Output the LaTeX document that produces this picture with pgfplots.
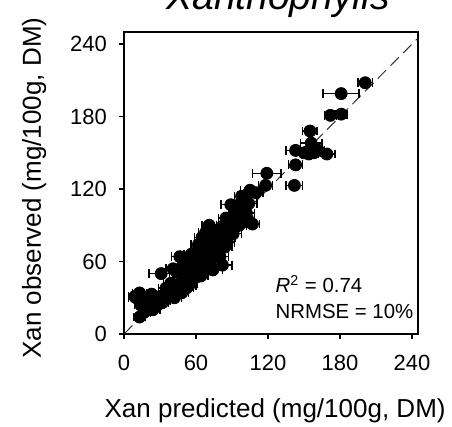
\documentclass[border=0pt]{standalone}
\usepackage{fontspec}
\setmainfont{Liberation Sans}
\usepackage{pgfplots}
\pgfplotsset{compat=1.18}
\usepackage{pgfplotstable}

\pgfplotstableread{
x y e
201 208 6
181 199 15
172 181 5
181 182 5
155 168 6
156 158 9
143 152 8
150 150 6
154 149 6
158 150 6
162 152 5
169 149 7
143 140 6
119 133 12
142 123 7
118 123 6
105 119 8
110 117 6
102 115 7
98 114 6
89 107 8
97 108 7
104 108 7
93 101 6
102 100 7
95 94 6
100 97 6
107 91 6
92 97 5
98 104 6
90 92 5
103 95 6
96 90 6
85 96 6
71 90 6
82 89 7
91 83 7
78 86 6
74 82 6
68 84 6
86 80 7
80 77 6
72 78 5
65 80 6
62 74 6
76 72 6
84 72 6
70 70 6
66 68 5
60 67 6
74 66 6
80 64 7
56 62 6
64 62 6
70 60 6
58 58 5
62 56 6
52 55 5
66 54 6
74 53 8
82 57 8
57 48 6
60 52 5
68 64 6
72 74 6
78 70 6
62 70 6
68 76 6
88 86 6
84 84 6
76 80 6
66 72 6
56 66 6
54 60 6
50 56 5
48 52 5
64 66 6
70 68 6
76 76 5
80 82 6
86 76 6
73 62 6
67 58 5
60 62 5
90 88 6
58 52 5
52 50 5
64 48 6
46.5 64 7
41 54 6
31 50 10
44 51 6
13 34 6
13 14 5
24 20 6
19 25 5
30 31 6
38 36 6
46 39 6
55 42 6
60 47 6
10 30 6
16 28 6
22 27 5
28 24 6
34 28 5
40 32 6
48 34 6
52 38 6
44 40 5
36 33 5
26 30 6
20 22 5
17 18 5
32 26 5
42 30 6
50 44 6
56 46 6
14 24 5
9 31 5
23 33 6
35 38 6
46 36 6
54 40 6
39 42 6
29 27 5
58 50 6
}\datatable

\begin{document}
\begin{tikzpicture}
\begin{axis}[
  at={(0,0)}, anchor=south west,
  scale only axis, width=147pt, height=151pt,
  xmin=0, xmax=245, ymin=0, ymax=250,
  xtick={0,60,120,180,240}, ytick={0,60,120,180,240},
  tick align=outside, major tick length=2.5pt,
  xtick pos=bottom, ytick pos=left,
  /pgf/number format/assume math mode=true,
  tick label style={font=\fontsize{11}{13}\selectfont},
  xticklabel style={yshift=-4.5pt},
  yticklabel style={xshift=-2.5pt},
  tick style={black, line width=0.6pt},
  axis line style={black, line width=0.6pt},
  xlabel={Xan predicted (mg/100g, DM)},
  ylabel={Xan observed (mg/100g, DM)},
  label style={font=\fontsize{13}{15}\selectfont},
  xlabel style={at={(axis description cs:0.514,-0.275)}, anchor=base},
  ylabel style={at={(axis description cs:-0.306,0.483)}, anchor=center},
]
\addplot[black!80, line width=0.5pt, dash pattern=on 6pt off 3pt] coordinates {(0,0) (250,250)};
\addplot[only marks, mark=none, black, line width=0.7pt,
  error bars/.cd, x dir=both, x explicit,
  error bar style={line width=0.7pt},
  error mark options={rotate=90, mark size=2.2pt, line width=0.7pt}]
  table[x=x, y=y, x error=e] {\datatable};
\addplot[only marks, mark=*, mark size=3pt, black] table[x=x, y=y] {\datatable};
\node[anchor=base west, inner sep=0pt, font=\fontsize{10.2}{12}\selectfont] at (axis cs:126,34) {\textit{R}$^{\mathrm{2}}$ = 0.74};
\node[anchor=base west, inner sep=0pt, font=\fontsize{10.2}{12}\selectfont] at (axis cs:126,13) {NRMSE = 10\%};
\end{axis}
\node[anchor=base, font=\fontsize{19.5}{23}\selectfont\itshape] at (77pt,162pt) {Xanthophylls};
\pgfresetboundingbox
\useasboundingbox (-62pt,-46.5pt) rectangle (164pt,167pt);
\end{tikzpicture}
\end{document}
